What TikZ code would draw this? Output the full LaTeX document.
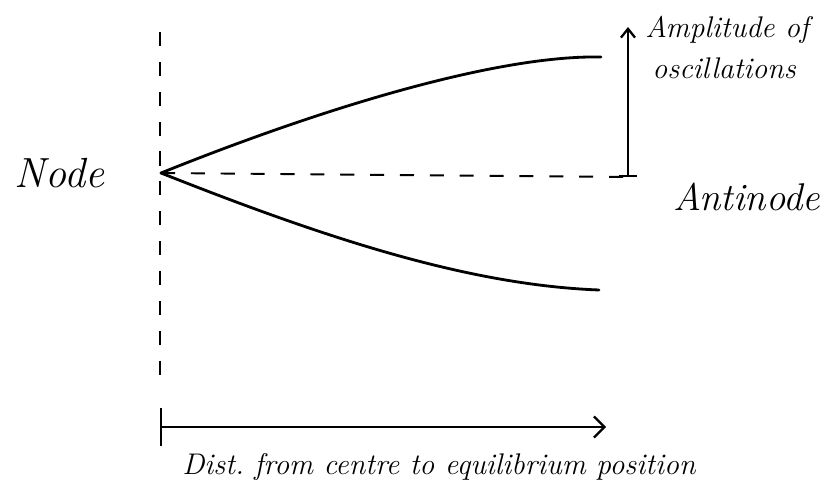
\documentclass[tikz,border=0pt]{standalone}
\usepackage{tikz}
\usetikzlibrary{arrows.meta,positioning}

\begin{document}
\begin{tikzpicture}[
  x=0.02cm, y=-0.02cm,
  wave/.style={line width=1.6pt, line cap=round},
  guide/.style={line width=1.1pt, dash pattern=on 8pt off 9pt},
  lbl/.style={font=\itshape\fontsize{#1}{23pt}\selectfont, inner sep=0pt, align=left},
]
  \useasboundingbox (0,0) rectangle (827,492);

  % Points
  \coordinate (nd) at (161,173);
  \coordinate (top) at (160,32);
  \coordinate (bot) at (160,387);
  \coordinate (up) at (601,57);
  \coordinate (down) at (599,290);
  \coordinate (anti) at (628,177);
  \coordinate (ampl) at (628,27);
  \coordinate (orig) at (160,427);
  \coordinate (dist) at (606,427);

  % Axis through the node
  \draw[guide] (top) -- (bot);
  \draw[guide] (nd) -- (anti);

  % Envelope
  \draw[wave] (nd) .. controls (330,105) and (500,55) .. (up);
  \draw[wave] (nd) .. controls (330,240) and (470,285) .. (down);

  % Amplitude arrow
  \draw[line width=1.3pt, {Bar[width=10pt]}-{Straight Barb[length=5pt,width=8pt]}] (anti) -- (ampl);

  % Distance arrow
  \draw[line width=1.3pt, {Bar[width=22pt]}-{Straight Barb[length=6pt,width=12pt]}] (orig) -- (dist);

  % Labels
  \node[lbl=24pt, anchor=west] (nodetxt) at (14,173) {Node};
  \node[lbl=22pt, anchor=west] (antitxt) at (673,197) {Antinode};
  \node[lbl=17pt, anchor=north west] (ampltxt) at (645,16) {Amplitude of\\\hspace*{4pt}oscillations};
  \node[lbl=17pt, anchor=west] (disttxt) at (182,467) {Dist.\ from centre to equilibrium position};
\end{tikzpicture}
\end{document}
